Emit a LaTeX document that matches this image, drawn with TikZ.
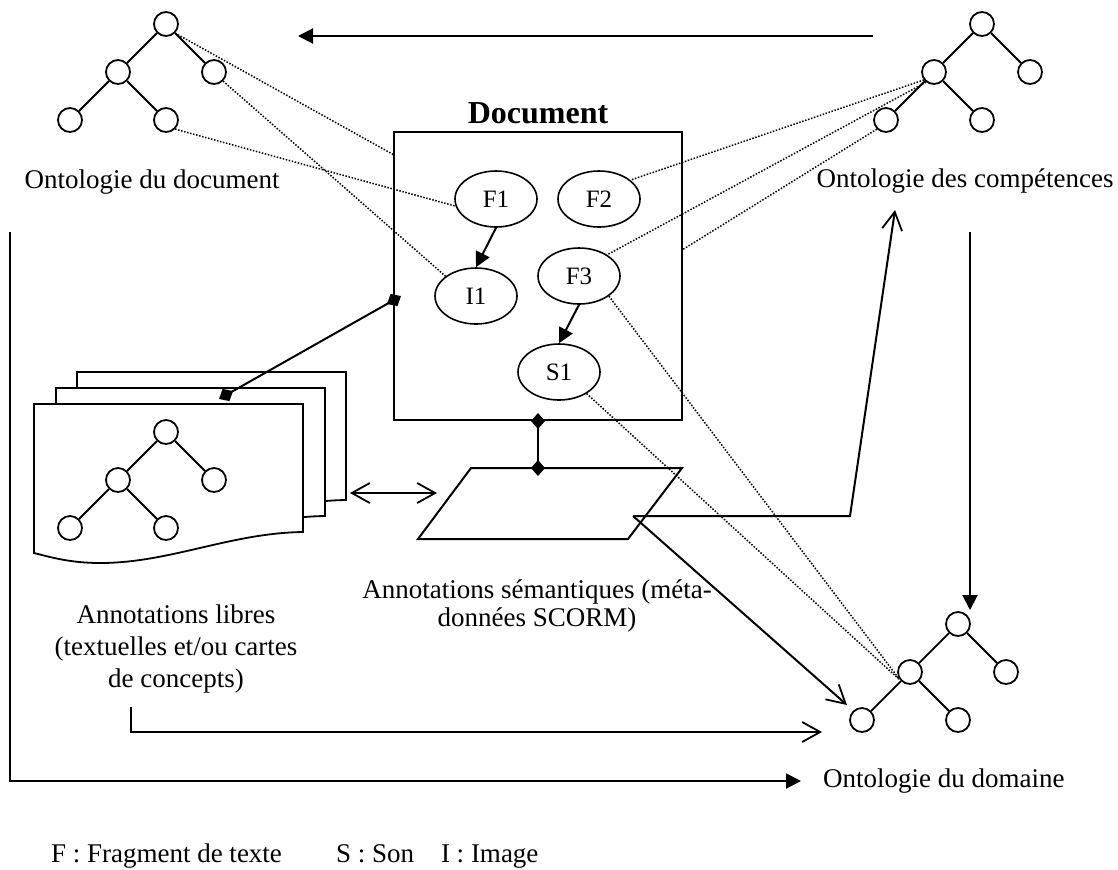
\documentclass[tikz,border=0pt]{standalone}
\usepackage{fontspec}
\setmainfont{Liberation Serif}
\usetikzlibrary{arrows.meta,shapes.geometric,calc}

% small ontology tree: prefix, x, y of the root
\newcommand\ontotree[3]{%
  \node[tnode] (#1r)  at (#2,#3) {};
  \node[tnode] (#1l)  at (#2-48,#3+48) {};
  \node[tnode] (#1rr) at (#2+48,#3+48) {};
  \node[tnode] (#1ll) at (#2-96,#3+96) {};
  \node[tnode] (#1lm) at (#2,#3+96) {};
  \draw[tedge] (#1r) -- (#1l) (#1r) -- (#1rr) (#1l) -- (#1ll) (#1l) -- (#1lm);
}
% one sheet of the free annotations stack
\newcommand\annsheet{%
  \draw[line width=0.9pt,fill=white] (34,404) -- (303,404) -- (303,532)
    .. controls (230,533) and (170,563) .. (100,563)
    .. controls (70,563) and (50,557) .. (34,553) -- cycle;
}

\begin{document}
\begin{tikzpicture}[x=0.5pt,y=-0.5pt,
  line width=1pt,
  tnode/.style={circle,draw,line width=0.9pt,minimum size=12pt,inner sep=0pt},
  tedge/.style={line width=0.9pt},
  frag/.style={ellipse,draw,line width=0.8pt,minimum width=41pt,minimum height=28pt,
    inner sep=0pt,font=\fontsize{12.5}{14}\selectfont},
  lbl/.style={font=\fontsize{13.5}{16}\selectfont,align=center,inner sep=0pt},
  link/.style={line width=0.75pt,dash pattern=on 0.75pt off 0.8pt},
  solidtip/.style={-{Triangle[length=7.5pt,width=7.5pt]}},
  opentip/.style={-{Straight Barb[length=9pt,width=10pt,line width=0.9pt]}},
  dtip/.style={{Diamond[length=8pt,width=7pt]}-{Diamond[length=8pt,width=7pt]},
    shorten <=-4pt,shorten >=-4pt}
]
\useasboundingbox (0,0) rectangle (1118,869);

% ontologies
\ontotree{tl}{166}{24}
\ontotree{tr}{982}{24}
\ontotree{dm}{958}{624}

\node[lbl] (ontdoc) at (152,182) {Ontologie du document};
\node[lbl] (ontcmp) at (965,181) {Ontologie des compétences};
\node[lbl,anchor=west] (ontdom) at (822,781) {Ontologie du domaine};

% document and its fragments
\node[draw,line width=1pt,minimum width=144pt,minimum height=144pt,inner sep=0pt]
  (doc) at (538,276) {};
\node[font=\fontsize{16}{18}\selectfont\bfseries,inner sep=0pt] (doctitle) at (538,113) {Document};
\node[frag] (F1) at (496,199) {F1};
\node[frag] (F2) at (599,199) {F2};
\node[frag] (F3) at (579,276) {F3};
\node[frag] (I1) at (476,296) {I1};
\node[frag] (S1) at (559,372) {S1};
\draw[solidtip] (F1.south) -- (I1.north);
\draw[solidtip] (F3.south) -- (S1.north);

% free annotations
\begin{scope}[shift={(43,-32)}]\annsheet\end{scope}
\begin{scope}[shift={(22,-16)}]\annsheet\end{scope}
\annsheet
\ontotree{an}{166}{432}
\node[lbl] (anlib) at (176,649) {Annotations libres\\(textuelles et/ou cartes\\de concepts)};

% semantic annotations
\draw[line width=1pt] (471,468) -- (682,468) -- (628,539) -- (418,539) -- cycle;
\node[lbl,font=\fontsize{13.5}{14}\selectfont] (ansem) at (537,606)
  {Annotations sémantiques (méta-\\données SCORM)};

% anchor points
\coordinate (docL) at (394,155);
\coordinate (docR) at (682,250);
\coordinate (docD) at (394,300);
\coordinate (pg) at (226,395);
\coordinate (anT) at (538,468);
\coordinate (anO) at (633,516);
\coordinate (bend) at (850,516);
\coordinate (cmpIn) at (895,210);
\coordinate (dmIn) at (847,705);
\coordinate (pgR) at (350,493);
\coordinate (anL) at (437,493);
\coordinate (libS) at (131,707);
\coordinate (libB) at (131,732);
\coordinate (dmIn2) at (822,732);
\coordinate (docS) at (10,232);
\coordinate (docB) at (10,781);
\coordinate (domIn) at (801,781);
\coordinate (cmpS) at (970,232);
\coordinate (cmpB) at (970,610);
\coordinate (topA) at (873,36);
\coordinate (topB) at (298,36);

% composition links
\draw[dtip] (docD) -- (pg);
\draw[dtip] (doc.south) -- (anT);

% flows
\draw[solidtip] (topA) -- (topB);
\draw[solidtip] (docS) -- (docB) -- (domIn);
\draw[solidtip] (cmpS) -- (cmpB);
\draw[{Straight Barb[length=9pt,width=10pt,line width=0.9pt]}-{Straight Barb[length=9pt,width=10pt,line width=0.9pt]}] (pgR) -- (anL);
\draw[opentip] (anO) -- (bend) -- (cmpIn);
\draw[opentip] (anO) -- (dmIn);
\draw[opentip] (libS) -- (libB) -- (dmIn2);

% concept links
\draw[link] (tlr.-45) -- (docL);
\draw[link] (tlrr.-45) -- (I1.147);
\draw[link] (tllm.-45) -- (F1.190);
\draw[link] (trl.218) -- (F2.31);
\draw[link] (trl.232) -- (F3.37);
\draw[link] (trll.225) -- (docR);
\draw[link] (F3.-34) -- (dml.212);
\draw[link] (S1.-38) -- (dml.218);

% legend
\node[lbl,anchor=base west] (lgF) at (50,862) {F : Fragment de texte};
\node[lbl,anchor=base west] (lgS) at (335,862) {S : Son};
\node[lbl,anchor=base west] (lgI) at (440,862) {I : Image};
\end{tikzpicture}
\end{document}
